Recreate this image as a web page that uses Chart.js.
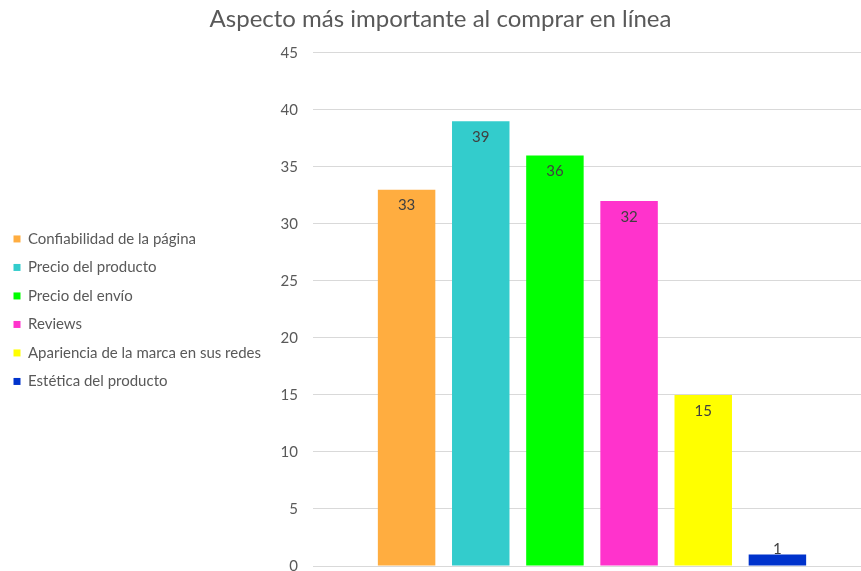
<!DOCTYPE html>
<html lang="es">
<head>
<meta charset="utf-8">
<title>Aspecto más importante al comprar en línea</title>
<script src="https://cdn.jsdelivr.net/npm/chart.js@4.4.1/dist/chart.umd.min.js"></script>
<style>
    body { margin: 0; background: #ffffff; }
    #wrap { width: 861px; height: 571px; }
</style>
</head>
<body>
<div id="wrap"><canvas id="chart" width="861" height="571"></canvas></div>
<script>
const chartTitle = "Aspecto más importante al comprar en línea";
const aspects = [
    "Confiabilidad de la página",
    "Precio del producto",
    "Precio del envío",
    "Reviews",
    "Apariencia de la marca en sus redes",
    "Estética del producto"
];
const votes = [33, 39, 36, 32, 15, 1];
const barColors = ["#FFAD40", "#33CCCC", "#00FF00", "#FF33CC", "#FFFF00", "#0033CC"];

const textColor = "#595959";
const fontFamily = "Lato, 'Open Sans', sans-serif";
const legendWidth = 272;   // room for the longest legend entry
const plotLeft = 313;
const plotOverhang = 10;   // the bar group sits as if the plot ran past the canvas edge

// one dataset per aspect so each gets its own legend entry
const datasets = aspects.map((name, i) => ({
    label: name,
    data: [votes[i]],
    backgroundColor: barColors[i],
    categoryPercentage: 0.812,
    barPercentage: 0.775
}));

// the layout caps a left legend at a quarter of the canvas, widen it again
const wideLegend = {
    id: "wideLegend",
    beforeLayout(chart) {
        const lg = chart.legend;
        if (lg && !lg._wide) {
            const fit = lg.fit.bind(lg);
            lg.fit = function () {
                fit();
                this.width = legendWidth;
            };
            lg._wide = true;
        }
    },
    // move the centre of the single category a little to the right
    afterLayout(chart) {
        const x = chart.scales.x;
        x._startValue = -0.5 * (x.width + plotOverhang) / x.width;
    }
};

// value labels at the inside end of each bar
const barValues = {
    id: "barValues",
    afterDatasetsDraw(chart) {
        const ctx = chart.ctx;
        ctx.save();
        ctx.font = "15px " + fontFamily;
        ctx.fillStyle = "#404040";
        ctx.textAlign = "center";
        ctx.textBaseline = "middle";
        chart.data.datasets.forEach((ds, i) => {
            const meta = chart.getDatasetMeta(i);
            meta.data.forEach((bar, j) => {
                const y = Math.min(bar.y + 16, bar.base - 16);
                ctx.fillText(String(ds.data[j]), bar.x, y);
            });
        });
        ctx.restore();
    }
};

new Chart(document.getElementById("chart"), {
    type: "bar",
    data: {
        labels: [""],
        datasets: datasets
    },
    options: {
        responsive: false,
        animation: false,
        layout: {
            // negative right padding only nudges the title; the plot stays inside
            padding: { top: 0, right: -20, bottom: 5, left: 0 }
        },
        plugins: {
            title: {
                display: true,
                text: chartTitle,
                color: textColor,
                font: { family: fontFamily, size: 24, weight: "normal" },
                padding: { top: 5, bottom: 19 }
            },
            legend: {
                position: "left",
                // blank legend title only pushes the entries down a little
                title: {
                    display: true,
                    text: " ",
                    font: { size: 12 },
                    padding: { top: 40, bottom: 0 }
                },
                labels: {
                    color: textColor,
                    font: { family: fontFamily, size: 15 },
                    boxWidth: 7,
                    boxHeight: 7,
                    padding: 13.5
                }
            },
            tooltip: { enabled: false }
        },
        scales: {
            x: {
                display: false
            },
            y: {
                min: 0,
                max: 45,
                border: { display: false },
                grid: { color: "#d9d9d9", drawTicks: false },
                ticks: {
                    stepSize: 5,
                    padding: 15,
                    color: textColor,
                    font: { family: fontFamily, size: 15 }
                },
                afterFit(scale) {
                    const lw = scale.chart.legend ? scale.chart.legend.width : 0;
                    scale.width = Math.max(plotLeft - lw, 20);
                    scale.paddingTop = 0;
                    scale.paddingBottom = 5;
                }
            }
        }
    },
    plugins: [wideLegend, barValues]
});
</script>
</body>
</html>
